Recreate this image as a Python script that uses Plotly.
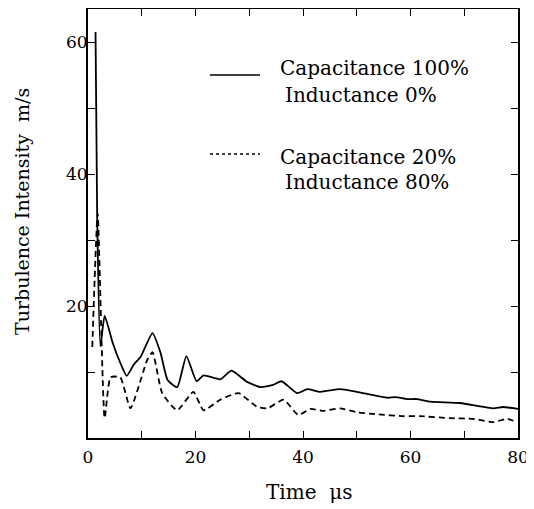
import plotly.graph_objects as go

# ---- data ----
t_cap100 = [1.4, 1.7, 2.3, 3.1, 4.6, 6.0, 7.2, 8.5, 9.8, 12.0, 13.5, 14.8, 16.6, 18.3,
            20.2, 21.5, 24.6, 26.7, 29.6, 32.1, 34.3, 36.0, 38.9, 40.8, 43.2, 46.9,
            50.0, 55.7, 57.2, 59.4, 61.2, 63.7, 69.2, 75.4, 77.2, 80.0]
v_cap100 = [61.5, 34.0, 13.9, 18.5, 14.4, 11.4, 9.4, 11.1, 12.3, 15.9, 12.9, 8.8, 7.7, 12.4,
            8.6, 9.5, 8.9, 10.2, 8.5, 7.7, 8.0, 8.6, 6.8, 7.4, 7.0, 7.4,
            7.0, 6.1, 6.2, 5.9, 5.9, 5.5, 5.3, 4.5, 4.7, 4.4]

t_cap20 = [0.8, 1.8, 3.1, 4.2, 6.0, 7.9, 11.0, 12.0, 13.8, 16.6, 19.6, 21.5, 24.6, 28.0,
           31.5, 33.4, 36.4, 39.1, 41.4, 43.8, 46.9, 50.0, 53.8, 58.6, 61.8, 67.4,
           71.7, 75.4, 78.0, 79.8]
v_cap20 = [13.8, 34.0, 3.0, 9.2, 9.2, 4.5, 11.8, 13.0, 6.8, 4.2, 7.0, 4.2, 5.8, 6.8,
           4.7, 4.5, 5.8, 3.5, 4.4, 4.1, 4.5, 3.9, 3.6, 3.3, 3.3, 3.0,
           2.9, 2.4, 2.9, 2.4]

x_tickvals = [0, 10, 20, 30, 40, 50, 60, 70, 80]
x_ticktext = ["0", "", "20", "", "40", "", "60", "", "80"]
y_tickvals = [10, 20, 30, 40, 50, 60]
y_ticktext = ["", "20", "", "40", "", "60"]

legend_lines = [["Capacitance 100%", "Inductance 0%"],
                ["Capacitance 20%", "Inductance 80%"]]
x_title = "Time  μs"
y_title = "Turbulence Intensity  m/s"

FONT = "DejaVu Serif"
OFF = 8                      # page body margin
W, H = 534 - OFF, 509 - OFF
PL, PR, PT, PB = 88, 518, 9, 438   # plot area in window pixels
L, R, T, B = PL - OFF, OFF + W - PR, PT - OFF, OFF + H - PB


def px(x):
    return (x - PL) / (PR - PL)


def py(y):
    return (PB - y) / (PB - PT)


fig = go.Figure()
fig.add_trace(go.Scatter(x=t_cap100, y=v_cap100, mode="lines",
                         line=dict(color="black", width=1.8, shape="spline", smoothing=0.5),
                         showlegend=False))
fig.add_trace(go.Scatter(x=t_cap20, y=v_cap20, mode="lines",
                         line=dict(color="black", width=1.8, dash="6px,4px",
                                   shape="spline", smoothing=0.5),
                         showlegend=False))

# legend drawn by hand
shapes = [
    dict(type="line", xref="paper", yref="paper", x0=px(210), x1=px(260), y0=py(75), y1=py(75),
         line=dict(color="black", width=1.5)),
    dict(type="line", xref="paper", yref="paper", x0=px(210), x1=px(260), y0=py(154), y1=py(154),
         line=dict(color="black", width=1.5, dash="3px,3px")),
]
txt = dict(family=FONT, size=20, color="black")
annotations = []
for (l1, l2), y1, y2 in zip(legend_lines, [68, 157], [95, 182]):
    annotations.append(dict(text=l1, xref="paper", yref="paper", x=px(278), y=py(y1),
                            xanchor="left", yanchor="middle", showarrow=False, font=txt))
    annotations.append(dict(text=l2, xref="paper", yref="paper", x=px(283), y=py(y2),
                            xanchor="left", yanchor="middle", showarrow=False, font=txt))
annotations.append(dict(text=x_title, xref="paper", yref="paper", x=px(309), y=py(492),
                        xanchor="center", yanchor="middle", showarrow=False, font=txt))
annotations.append(dict(text=y_title, xref="paper", yref="paper", x=px(22), y=py(212),
                        xanchor="center", yanchor="middle", showarrow=False,
                        font=dict(family=FONT, size=19, color="black"),
                        textangle=-90, borderpad=0))

axis_common = dict(ticks="inside", ticklen=7, tickwidth=1.3, tickcolor="black",
                   showline=True, linecolor="black", linewidth=1.8, mirror="ticks",
                   showgrid=False, zeroline=False, automargin=False,
                   tickfont=dict(family=FONT, size=17, color="black"))

fig.update_layout(
    width=W, height=H,
    margin=dict(l=L, r=R, t=T, b=B, pad=0),
    paper_bgcolor="white", plot_bgcolor="white",
    font=dict(family=FONT, size=17, color="black"),
    shapes=shapes, annotations=annotations,
    xaxis=dict(range=[0, 80], tickvals=x_tickvals, ticktext=x_ticktext,
               ticklabelstandoff=3, **axis_common),
    yaxis=dict(range=[0, 65], tickvals=y_tickvals, ticktext=y_ticktext,
               ticklabelstandoff=-5, **axis_common),
)

fig.write_html("out.html")
